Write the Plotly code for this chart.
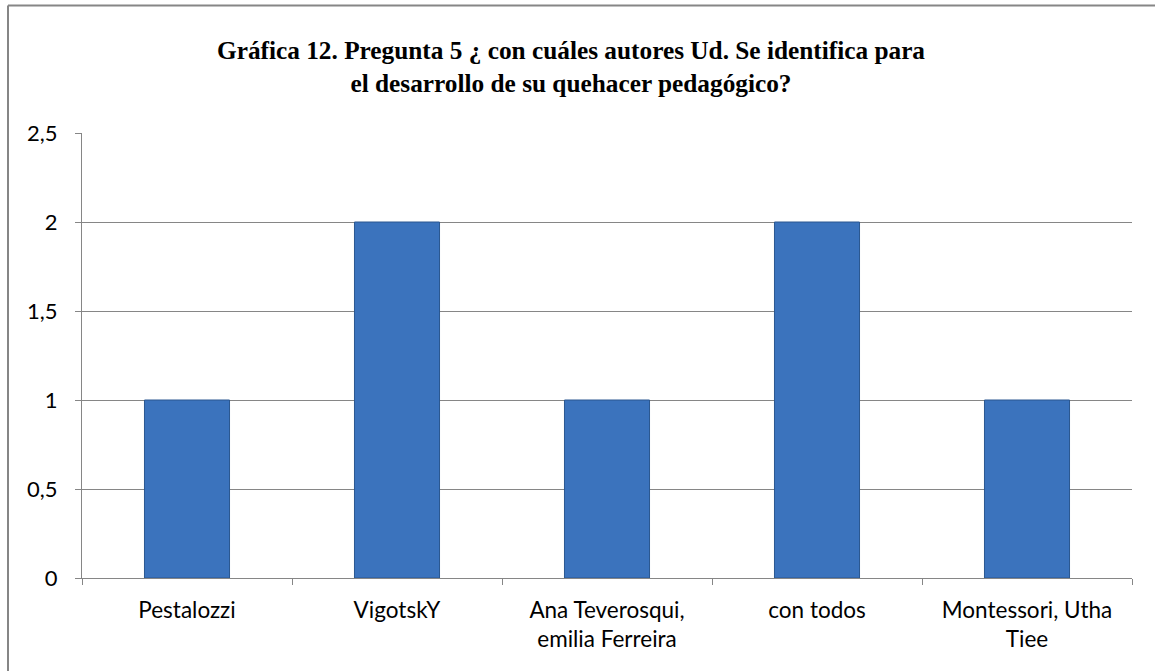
import plotly.graph_objects as go

categories = ["Pestalozzi", "VigotskY", "Ana Teverosqui,<br>emilia Ferreira", "con todos", "Montessori, Utha<br>Tiee"]
values = [1, 2, 1, 2, 1]
y_ticks = [0, 0.5, 1, 1.5, 2, 2.5]
title_text = "Gráfica 12. Pregunta 5 ¿ con cuáles autores Ud. Se identifica para<br>el desarrollo de su quehacer pedagógico?"

fig = go.Figure()
fig.add_trace(go.Bar(
    x=categories, y=values, width=0.405,
    marker=dict(color="#3B73BD", line=dict(color="#2A5790", width=1)),
    hoverinfo="skip",
))

L, R, T, B = 82, 23, 133, 93
W, H = 1155, 671
pw, ph = W - L - R, H - T - B

fig.update_layout(
    width=W, height=H,
    margin=dict(l=L, r=R, t=T, b=B),
    paper_bgcolor="white", plot_bgcolor="white",
    separators=",.",
    showlegend=False,
    title=dict(text=title_text, x=571 / W, xanchor="center",
               y=1 - 59 / H, yanchor="top",
               font=dict(family="Liberation Serif", size=25.3, color="black", weight="bold")),
    xaxis=dict(showline=True, linecolor="#868686", linewidth=1,
               ticks="outside", tickson="boundaries", ticklen=6, tickcolor="#868686",
               ticklabelstandoff=12,
               tickfont=dict(family="Lato", size=22.5, color="black"), showgrid=False),
    yaxis=dict(range=[0, 2.5], tickvals=y_ticks, showline=True, linecolor="#868686", linewidth=1,
               ticks="outside", ticklen=6, tickcolor="#868686",
               gridcolor="#868686", gridwidth=1, zeroline=False,
               ticklabelstandoff=13,
               tickfont=dict(family="Lato", size=22, color="black")),
    shapes=[
        dict(type="line", xref="paper", yref="paper",
             x0=(8 - L) / pw, x1=(8 - L) / pw, y0=1 + (T - 5.5) / ph, y1=-(B + 5) / ph,
             line=dict(color="#868686", width=2)),
        dict(type="line", xref="paper", yref="paper",
             x0=(8 - L) / pw, x1=1 + (R + 5) / pw, y0=1 + (T - 5.5) / ph, y1=1 + (T - 5.5) / ph,
             line=dict(color="#868686", width=2)),
    ],
)

fig.write_html("out.html", config={"displayModeBar": False},
               post_script="document.body.style.margin='0';")
